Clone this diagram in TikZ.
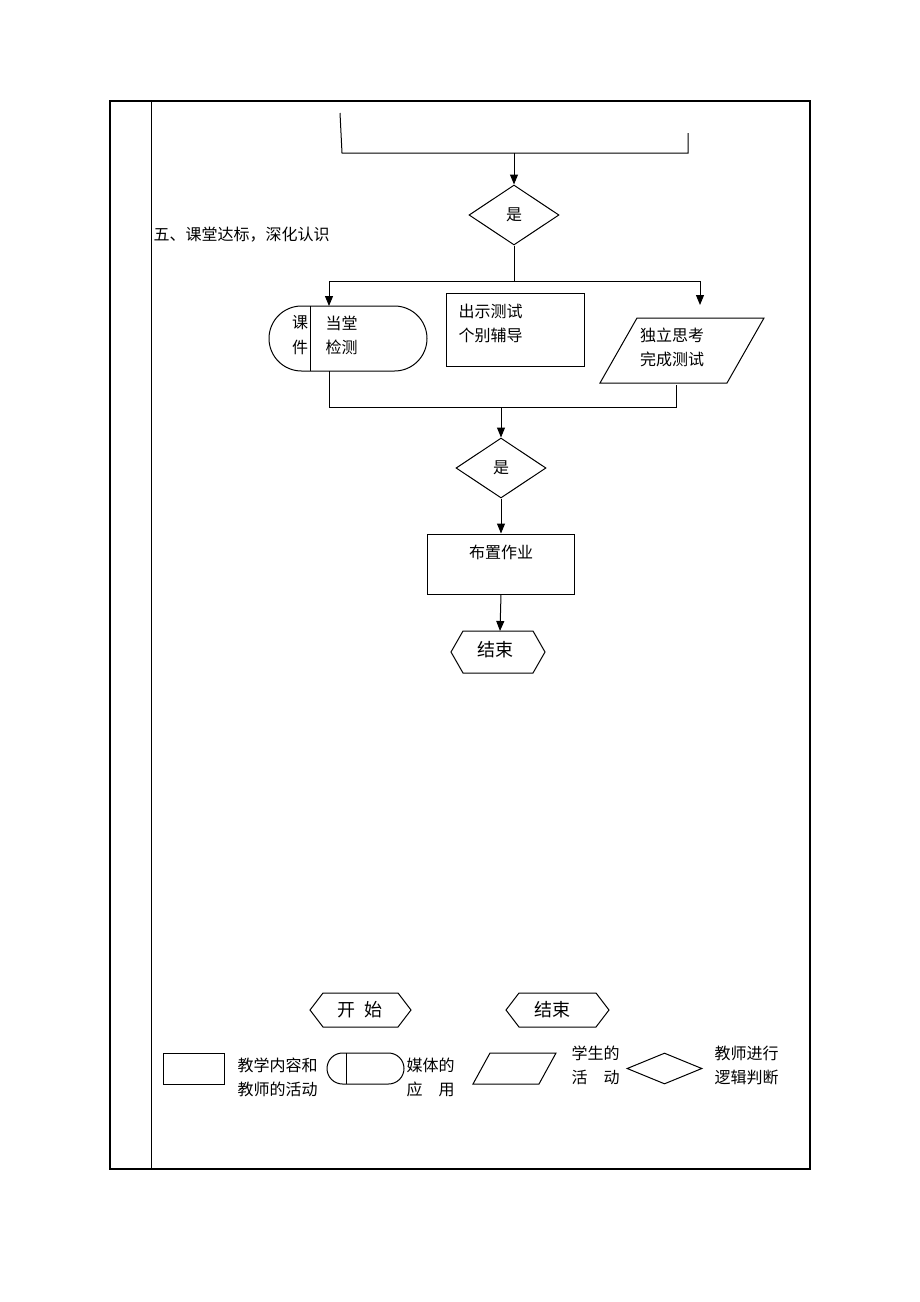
\documentclass[tikz,border=0pt]{standalone}
\usepackage{fontspec}
\setmainfont{Noto Sans CJK SC}
\usetikzlibrary{arrows.meta,shapes.geometric,shapes.misc}
\begin{document}
\begin{tikzpicture}[x=0.5pt,y=-0.5pt,line width=0.5pt,
  arr/.style={-{Triangle[length=5pt,width=4pt]}},
  lbl/.style={font=\fontsize{8}{10}\selectfont,inner sep=0pt},
  big/.style={font=\fontsize{9}{11}\selectfont,inner sep=0pt},
  dia/.style={draw,diamond,minimum width=45pt,minimum height=30pt,inner sep=0pt,font=\fontsize{8}{10}\selectfont},
  box/.style={draw,rectangle,inner sep=0pt},
  stad/.style={draw,rounded rectangle,inner sep=0pt}]
\useasboundingbox (0,0) rectangle (920,1302);
% frame
\draw[line width=0.9pt] (110,101) rectangle (810,1169);
\draw (151,101) -- (151,1169);

% top join
\coordinate (tl1) at (340,113);
\coordinate (tl2) at (342,153);
\coordinate (tr1) at (688,133);
\coordinate (tr2) at (688,153);
\coordinate (tm) at (514,153);
\draw (tl1) -- (tl2) -- (tr2) -- (tr1);
\node[dia] (d1) at (514,215) {是};
\draw[arr] (tm) -- (d1.north);

\node[lbl,anchor=west] (title) at (153,235) {五、课堂达标，深化认识};

% split
\coordinate (s1) at (514,281);
\coordinate (sl) at (329,281);
\coordinate (sr) at (700,281);
\coordinate (srend) at (700,305);
\draw (d1.south) -- (s1);
\draw (sl) -- (sr);

% stadium
\node[stad,minimum width=79pt,minimum height=32.5pt] (st) at (348,338.5) {};
\coordinate (stdt) at (310,306);
\coordinate (stdb) at (310,371);
\draw (stdt) -- (stdb);
\node[lbl] (k1) at (300,323) {课};
\node[lbl] (k2) at (300,347) {件};
\node[lbl,anchor=west] (k3) at (325,323) {当堂};
\node[lbl,anchor=west] (k4) at (325,347) {检测};
\coordinate (sttop) at (329,306);
\coordinate (stbot) at (329,371);
\draw[arr] (sl) -- (sttop);
\draw[arr] (sr) -- (srend);

% teacher box
\node[box,minimum width=69pt,minimum height=36.5pt] (tb) at (515,329.5) {};
\node[lbl,anchor=west] (t1) at (458,311) {出示测试};
\node[lbl,anchor=west] (t2) at (458,335) {个别辅导};

% student parallelogram
\coordinate (p1) at (600,383);
\coordinate (p2) at (637,318);
\coordinate (p3) at (764,318);
\coordinate (p4) at (727,383);
\draw (p1) -- (p2) -- (p3) -- (p4) -- cycle;
\node[lbl] (q1) at (672,335) {独立思考};
\node[lbl] (q2) at (672,359) {完成测试};
\coordinate (pbot) at (676,385);

% merge
\coordinate (ml) at (329,407);
\coordinate (mr) at (676,407);
\coordinate (mm) at (501,407);
\draw (stbot) -- (ml) -- (mr) -- (pbot);
\node[dia] (d2) at (501,468) {是};
\draw[arr] (mm) -- (d2.north);

\node[box,minimum width=73.5pt,minimum height=30pt] (hw) at (501,564) {};
\node[lbl] (hwt) at (501,552) {布置作业};
\draw[arr] (d2.south) -- (hw.north);

% end hexagon
\coordinate (e1) at (463,631);
\coordinate (e2) at (533,631);
\coordinate (e3) at (545,652);
\coordinate (e4) at (533,673);
\coordinate (e5) at (463,673);
\coordinate (e6) at (451,652);
\draw (e1) -- (e2) -- (e3) -- (e4) -- (e5) -- (e6) -- cycle;
\node[big] (endt) at (495,650) {结束};
\coordinate (etop) at (500,631);
\draw[arr] (hw.south) -- (etop);

% legend: start
\draw (323,993) -- (398,993) -- (411,1010) -- (398,1027) -- (323,1027) -- (310,1010) -- cycle;
\node[big] (ls) at (360,1010) {开\hspace{0.5em}始};
\draw (519,993) -- (596,993) -- (609,1010) -- (596,1027) -- (519,1027) -- (506,1010) -- cycle;
\node[big] (le) at (552,1010) {结束};

% legend row
\node[box,minimum width=30.5pt,minimum height=15.5pt] (lr) at (193.5,1068.5) {};
\node[lbl,anchor=west] (lr1) at (237,1065) {教学内容和};
\node[lbl,anchor=west] (lr2) at (237,1089) {教师的活动};

\node[stad,minimum width=38.5pt,minimum height=15.5pt] (lm) at (365.5,1068.5) {};
\draw (346,1053) -- (346,1084);
\node[lbl,anchor=west] (lm1) at (406,1065) {媒体的};
\node[lbl,anchor=west] (lm2) at (406,1089) {应\hspace{1em}用};

\draw (490,1053) -- (556,1053) -- (539,1084) -- (473,1084) -- cycle;
\node[lbl,anchor=west] (lp1) at (571,1053) {学生的};
\node[lbl,anchor=west] (lp2) at (571,1077) {活\hspace{1em}动};

\node[draw,diamond,minimum width=37.5pt,minimum height=15.5pt,inner sep=0pt] (ld) at (664.5,1068.5) {};
\node[lbl,anchor=west] (ld1) at (714,1053) {教师进行};
\node[lbl,anchor=west] (ld2) at (714,1077) {逻辑判断};
\end{tikzpicture}
\end{document}
